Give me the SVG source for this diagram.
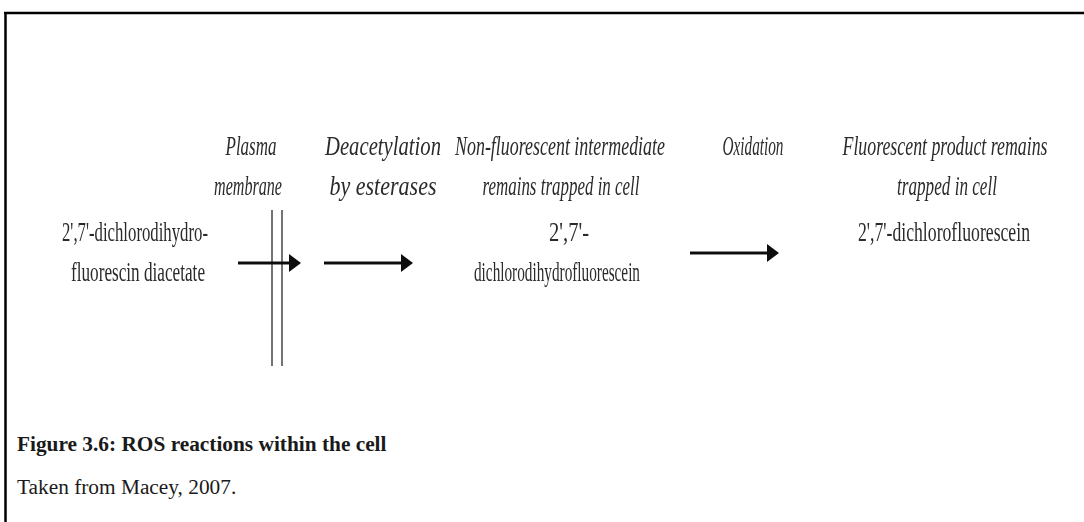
<svg xmlns="http://www.w3.org/2000/svg" width="1084" height="522" viewBox="0 0 1084 522">
  <style>
    .lbl { font-family: "Liberation Serif", "Times New Roman", serif; font-size: 28px; fill: #2b2b2b; text-anchor: middle; }
    .it { font-style: italic; }
    .cap { font-family: "Liberation Serif", "Times New Roman", serif; font-size: 21.33px; fill: #1a1a1a; }
    .bold { font-weight: bold; }
    .frame { stroke: #000; stroke-width: 2.5; fill: none; }
    .flow { stroke: #111; stroke-width: 3; fill: none; marker-end: url(#head); }
    .mem { stroke: #444; stroke-width: 1.5; fill: none; }
  </style>
  <defs>
    <marker id="head" viewBox="0 0 12 18" refX="2" refY="9" markerWidth="12" markerHeight="18" markerUnits="userSpaceOnUse" orient="auto">
      <path d="M0,0 L12,9 L0,18 Z" fill="#111"/>
    </marker>
    <filter id="soft" x="-5%" y="-5%" width="110%" height="110%">
      <feGaussianBlur stdDeviation="0.6"/>
    </filter>
  </defs>

  <rect width="1084" height="522" fill="#fff"/>

  <!-- frame: top and left rules -->
  <g id="frame">
    <line class="frame" x1="4" y1="13" x2="1084" y2="13"/>
    <line class="frame" x1="5.5" y1="12" x2="5.5" y2="522"/>
  </g>

  <g filter="url(#soft)">
    <!-- step headings -->
    <g id="step-membrane">
      <text class="lbl it" x="251" y="155" textLength="51" lengthAdjust="spacingAndGlyphs">Plasma</text>
      <text class="lbl it" x="248" y="195" textLength="68" lengthAdjust="spacingAndGlyphs">membrane</text>
    </g>
    <g id="step-deacetylation">
      <text class="lbl it" x="383" y="155" textLength="116" lengthAdjust="spacingAndGlyphs">Deacetylation</text>
      <text class="lbl it" x="383" y="195" textLength="107" lengthAdjust="spacingAndGlyphs">by esterases</text>
    </g>
    <g id="step-intermediate">
      <text class="lbl it" x="560" y="155" textLength="210" lengthAdjust="spacingAndGlyphs">Non-fluorescent intermediate</text>
      <text class="lbl it" x="561" y="195" textLength="157" lengthAdjust="spacingAndGlyphs">remains trapped in cell</text>
    </g>
    <g id="step-oxidation">
      <text class="lbl it" x="753" y="155" textLength="61" lengthAdjust="spacingAndGlyphs">Oxidation</text>
    </g>
    <g id="step-product">
      <text class="lbl it" x="945" y="155" textLength="205" lengthAdjust="spacingAndGlyphs">Fluorescent product remains</text>
      <text class="lbl it" x="947" y="195" textLength="100" lengthAdjust="spacingAndGlyphs">trapped in cell</text>
    </g>

    <!-- compounds -->
    <g id="dcfh-da">
      <text class="lbl" x="135" y="241" textLength="146" lengthAdjust="spacingAndGlyphs">2',7'-dichlorodihydro-</text>
      <text class="lbl" x="138" y="281" textLength="134" lengthAdjust="spacingAndGlyphs">fluorescin diacetate</text>
    </g>
    <g id="dcfh">
      <text class="lbl" x="569" y="241" textLength="40" lengthAdjust="spacingAndGlyphs">2',7'-</text>
      <text class="lbl" x="557" y="281" textLength="166" lengthAdjust="spacingAndGlyphs">dichlorodihydrofluorescein</text>
    </g>
    <g id="dcf">
      <text class="lbl" x="944" y="241" textLength="172" lengthAdjust="spacingAndGlyphs">2',7'-dichlorofluorescein</text>
    </g>

    <!-- plasma membrane (double rule) -->
    <g id="membrane">
      <line class="mem" x1="272" y1="210" x2="272" y2="366"/>
      <line class="mem" x1="282" y1="210" x2="282" y2="366"/>
    </g>

    <!-- reaction arrows -->
    <g id="connectors">
      <line class="flow" x1="238" y1="263" x2="291" y2="263"/>
      <line class="flow" x1="324" y1="263" x2="403" y2="263"/>
      <line class="flow" x1="690" y1="253" x2="769" y2="253"/>
    </g>
  </g>

  <!-- caption -->
  <g id="caption">
    <text class="cap bold" x="17" y="451">Figure 3.6: ROS reactions within the cell</text>
    <text class="cap" x="17" y="494">Taken from Macey, 2007.</text>
  </g>
</svg>
